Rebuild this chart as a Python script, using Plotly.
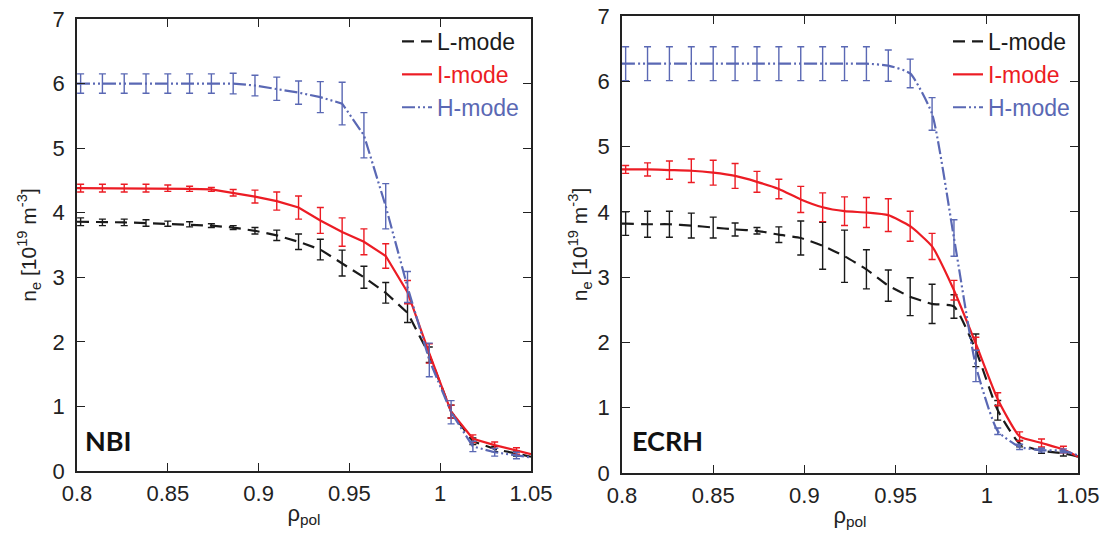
import plotly.graph_objects as go

# ---------------- data ----------------
rho = [0.802, 0.814, 0.826, 0.838, 0.850, 0.862, 0.874, 0.886, 0.898, 0.910, 0.922,
       0.934, 0.946, 0.958, 0.970, 0.982, 0.994, 1.006, 1.018, 1.030, 1.042]
rho_left_edge = 0.8
rho_right_edge = 1.05

# NBI panel
nbi_L = [3.86, 3.85, 3.85, 3.84, 3.83, 3.82, 3.80, 3.77, 3.72, 3.65, 3.55,
         3.43, 3.22, 3.00, 2.76, 2.45, 1.80, 0.92, 0.46, 0.34, 0.27]
nbi_L_err = [0.06, 0.05, 0.05, 0.05, 0.04, 0.04, 0.03, 0.03, 0.05, 0.08, 0.12,
             0.16, 0.20, 0.17, 0.16, 0.15, 0.12, 0.10, 0.05, 0.04, 0.04]
nbi_L_edges = [3.86, 0.22]

nbi_I = [4.38, 4.38, 4.38, 4.38, 4.38, 4.37, 4.36, 4.31, 4.25, 4.18, 4.08,
         3.88, 3.70, 3.55, 3.33, 2.77, 1.82, 0.92, 0.50, 0.40, 0.31]
nbi_I_err = [0.06, 0.06, 0.06, 0.06, 0.05, 0.04, 0.03, 0.05, 0.10, 0.14, 0.18,
             0.20, 0.22, 0.20, 0.19, 0.18, 0.15, 0.10, 0.06, 0.05, 0.05]
nbi_I_edges = [4.38, 0.26]

nbi_H = [6.00, 6.00, 6.00, 6.00, 6.00, 6.00, 6.00, 6.00, 5.97, 5.92, 5.86,
         5.79, 5.69, 5.20, 4.10, 2.85, 1.72, 0.91, 0.38, 0.29, 0.24]
nbi_H_err = [0.15, 0.15, 0.15, 0.15, 0.15, 0.15, 0.15, 0.16, 0.16, 0.18, 0.18,
             0.24, 0.33, 0.35, 0.35, 0.24, 0.26, 0.18, 0.08, 0.06, 0.05]
nbi_H_edges = [6.00, 0.21]

# ECRH panel
ecrh_L = [3.82, 3.81, 3.81, 3.79, 3.76, 3.73, 3.71, 3.65, 3.60, 3.48, 3.32,
          3.12, 2.87, 2.70, 2.59, 2.55, 1.88, 0.96, 0.45, 0.34, 0.30]
ecrh_L_err = [0.18, 0.20, 0.20, 0.19, 0.16, 0.10, 0.05, 0.12, 0.26, 0.36, 0.40,
              0.30, 0.24, 0.29, 0.30, 0.18, 0.25, 0.15, 0.05, 0.04, 0.04]
ecrh_L_edges = [3.82, 0.25]

ecrh_I = [4.65, 4.65, 4.64, 4.63, 4.60, 4.55, 4.46, 4.35, 4.19, 4.07, 4.01,
          3.99, 3.95, 3.78, 3.47, 2.80, 1.98, 1.13, 0.56, 0.46, 0.36]
ecrh_I_err = [0.06, 0.10, 0.14, 0.18, 0.19, 0.19, 0.16, 0.15, 0.20, 0.22, 0.22,
              0.23, 0.25, 0.23, 0.20, 0.15, 0.10, 0.10, 0.07, 0.06, 0.05]
ecrh_I_edges = [4.65, 0.25]

ecrh_H = [6.27, 6.27, 6.27, 6.27, 6.27, 6.27, 6.27, 6.27, 6.27, 6.27, 6.27,
          6.27, 6.24, 6.12, 5.50, 3.60, 1.64, 0.64, 0.40, 0.35, 0.34]
ecrh_H_err = [0.26, 0.26, 0.26, 0.26, 0.26, 0.26, 0.26, 0.26, 0.26, 0.26, 0.26,
              0.26, 0.24, 0.22, 0.25, 0.28, 0.24, 0.05, 0.04, 0.03, 0.03]
ecrh_H_edges = [6.27, 0.27]

x_ticks = [0.8, 0.85, 0.9, 0.95, 1.0, 1.05]
x_ticktext = ["0.8", "0.85", "0.9", "0.95", "1", "1.05"]
y_ticks = [0, 1, 2, 3, 4, 5, 6, 7]
panel_labels = ["NBI", "ECRH"]
mode_names = ["L-mode", "I-mode", "H-mode"]

# ---------------- style ----------------
C_L = "#1a1a1a"
C_I = "#ec1c24"
C_H = "#5a68b4"
colors = [C_L, C_I, C_H]
dashes = ["12px,7px", "solid", "13px,3px,2px,3px,2px,3px"]

W, H = 1107, 541
FONT = "Liberation Sans"

fig = go.Figure()

panels = [
    ("x", "y", "legend", [(nbi_L, nbi_L_err, nbi_L_edges),
                          (nbi_I, nbi_I_err, nbi_I_edges),
                          (nbi_H, nbi_H_err, nbi_H_edges)], "linear"),
    ("x2", "y2", "legend2", [(ecrh_L, ecrh_L_err, ecrh_L_edges),
                             (ecrh_I, ecrh_I_err, ecrh_I_edges),
                             (ecrh_H, ecrh_H_err, ecrh_H_edges)], "spline"),
]

for xa, ya, lg, series, shape in panels:
    for k, (vals, errs, edges) in enumerate(series):
        col = colors[k]
        line = dict(color=col, width=2.2, dash=dashes[k], shape=shape)
        if shape == "spline":
            line["smoothing"] = 0.5
        fig.add_trace(go.Scatter(
            x=[rho_left_edge] + rho + [rho_right_edge],
            y=[edges[0]] + vals + [edges[1]],
            mode="lines", line=line,
            name=f"<span style='color:{col}'>{mode_names[k]}</span>",
            xaxis=xa, yaxis=ya, legend=lg, showlegend=True,
            hoverinfo="skip",
        ))
        fig.add_trace(go.Scatter(
            x=rho, y=vals, mode="markers",
            marker=dict(size=0.1, color=col),
            error_y=dict(type="data", array=errs, visible=True, color=col,
                         thickness=1.4, width=3.5),
            xaxis=xa, yaxis=ya, showlegend=False, hoverinfo="skip",
        ))

axis_common = dict(
    showline=True, linecolor="#222", linewidth=1.5, mirror="ticks",
    ticks="inside", ticklen=8, tickwidth=1.3, tickcolor="#222",
    showgrid=False, zeroline=False, automargin=False,
    tickfont=dict(family=FONT, size=22, color="#222"),
)

def xaxis(dom, anchor):
    return dict(axis_common, domain=dom, anchor=anchor, range=[0.8, 1.05],
                tickvals=x_ticks, ticktext=x_ticktext, ticklabelstandoff=2,
                title=dict(text="ρ<sub>pol</sub>",
                           font=dict(family=FONT, size=22, color="#222"),
                           standoff=0))

def yaxis(dom, anchor, standoff):
    return dict(axis_common, domain=dom, anchor=anchor, range=[0, 7],
                tickvals=y_ticks, ticklabelstandoff=6,
                title=dict(text="n<sub>e</sub> [10<sup>19</sup> m<sup>-3</sup>]",
                           font=dict(family=FONT, size=21, color="#222"),
                           standoff=standoff))

fig.update_layout(
    template="none",
    width=W, height=H,
    margin=dict(l=0, r=0, t=0, b=0, pad=0),
    paper_bgcolor="white", plot_bgcolor="white",
    font=dict(family=FONT, color="#222"),
    xaxis=xaxis([77 / W, 531 / W], "y"),
    yaxis=yaxis([(H - 471) / H, (H - 19) / H], "x", 10),
    xaxis2=xaxis([622 / W, 1078 / W], "y2"),
    yaxis2=yaxis([(H - 473) / H, (H - 16) / H], "x2", 4),
    legend=dict(x=397 / W, y=1 - 20 / H, xanchor="left", yanchor="top",
                bgcolor="rgba(0,0,0,0)", font=dict(family=FONT, size=23),
                tracegroupgap=0, borderwidth=0),
    legend2=dict(x=948 / W, y=1 - 20 / H, xanchor="left", yanchor="top",
                 bgcolor="rgba(0,0,0,0)", font=dict(family=FONT, size=23),
                 tracegroupgap=0, borderwidth=0),
    showlegend=True,
)

label_pos = [("x", "y", 0.8035, 0.48), ("x2", "y2", 0.8045, 0.50)]
for (xr, yr, xv, yv), txt in zip(label_pos, panel_labels):
    fig.add_annotation(x=xv, y=yv, xref=xr, yref=yr, text=f"<b>{txt}</b>",
                       showarrow=False, xanchor="left", yanchor="middle",
                       font=dict(family="Lato", size=27, color="#111"))

fig.write_html("out.html")
